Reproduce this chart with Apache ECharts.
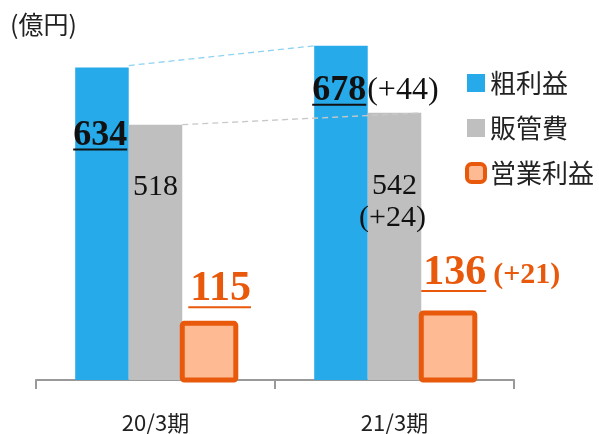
<!DOCTYPE html>
<html>
<head>
<meta charset="utf-8">
<script src="https://cdn.jsdelivr.net/npm/echarts@6/dist/echarts.min.js"></script>
<style>
html,body{margin:0;padding:0;background:#fff;}
#chart{width:599px;height:434px;}
</style>
</head>
<body>
<div id="chart"></div>
<script>
var categories = ['20/3期', '21/3期'];
var grossProfit = [634, 678];
var sgaExpense = [518, 542];
var operatingProfit = [115, 136];
var seriesNames = ['粗利益', '販管費', '営業利益'];
var unitLabel = '(億円)';

var BLUE = '#27AAE9', GRAY = '#BFBFBF', ORANGE = '#E8590C', ORANGE_FILL = '#FDBA93';
var SERIF = '"Liberation Serif", "DejaVu Serif", serif';
var CJK = '"Noto Sans CJK JP", "Noto Sans", sans-serif';
var CAT_GAP = 0.328;

var measureCtx = document.createElement('canvas').getContext('2d');
function textWidth(text, font) { measureCtx.font = font; return measureCtx.measureText(text).width; }
function diffText(arr, i) { var d = arr[i] - arr[i - 1]; return '(' + (d >= 0 ? '+' : '') + d + ')'; }

// per-category label placement (pixels, relative to bars)
var grossLabelDy = [68, 45];
var sgaLabelDy = [62, 73];
var opLabelDx = [8, 2];
var opLabelDy = [-34, -40];

function renderAnnot(params, api) {
  var i = api.value(0);
  var cx = api.coord([i, 0])[0];
  var base = api.coord([i, 0])[1];
  var band = api.size([1, 0])[0];
  var bw = band * (1 - CAT_GAP) / 3;
  var left0 = cx - 1.5 * bw;
  var g = api.value(1), s = api.value(2), o = api.value(3);
  var gTop = api.coord([i, g])[1];
  var sTop = api.coord([i, s])[1];
  var oTop = api.coord([i, o])[1];
  var children = [];

  // operating profit bar outline (centered on the bar edges)
  children.push({type: 'rect', shape: {x: left0 + 2 * bw, y: oTop, width: bw, height: base - oTop, r: 2},
    style: {fill: 'none', stroke: ORANGE, lineWidth: 5}});

  // connectors to previous period
  if (i > 0) {
    var pcx = api.coord([i - 1, 0])[0];
    var pl = pcx - 1.5 * bw;
    var pg = api.coord([i - 1, grossProfit[i - 1]])[1];
    var ps = api.coord([i - 1, sgaExpense[i - 1]])[1];
    children.push({type: 'line', shape: {x1: pl + bw, y1: pg - 2, x2: left0, y2: gTop},
      style: {stroke: '#8FD2F2', lineWidth: 1.3, lineDash: [6, 4]}});
    children.push({type: 'line', shape: {x1: pl + 2 * bw, y1: ps, x2: left0 + 2 * bw, y2: sTop},
      style: {stroke: '#C8C8C8', lineWidth: 1.3, lineDash: [6, 4]}});
  }

  // gross profit label
  var gFont = 'bold 36px ' + SERIF;
  var gx = left0 - 2, gy = gTop + grossLabelDy[i];
  var gText = String(g);
  var gw = textWidth(gText, gFont);
  children.push({type: 'text', style: {text: gText, x: gx, y: gy, font: gFont, fill: '#111', align: 'left', verticalAlign: 'middle'}});
  children.push({type: 'line', shape: {x1: gx, y1: gy + 14, x2: gx + gw, y2: gy + 14}, style: {stroke: '#111', lineWidth: 2}});
  if (i > 0) {
    children.push({type: 'text', style: {text: diffText(grossProfit, i), x: gx + gw + 1, y: gy, font: '32px ' + SERIF, fill: '#111', align: 'left', verticalAlign: 'middle'}});
  }

  // SGA label
  var sx = left0 + 1.5 * bw, sy = sTop + sgaLabelDy[i];
  children.push({type: 'text', style: {text: String(s), x: sx, y: sy, font: '30px ' + SERIF, fill: '#111', align: 'center', verticalAlign: 'middle'}});
  if (i > 0) {
    children.push({type: 'text', style: {text: diffText(sgaExpense, i), x: sx - 2, y: sy + 32, font: '30px ' + SERIF, fill: '#111', align: 'center', verticalAlign: 'middle'}});
  }

  // operating profit label
  var oFont = 'bold 42px ' + SERIF;
  var ox = left0 + 2 * bw + opLabelDx[i], oy = oTop + opLabelDy[i];
  var oText = String(o);
  var ow = textWidth(oText, oFont);
  children.push({type: 'text', style: {text: oText, x: ox, y: oy, font: oFont, fill: ORANGE, align: 'left', verticalAlign: 'middle'}});
  children.push({type: 'line', shape: {x1: ox - 2, y1: oy + 18, x2: ox + ow, y2: oy + 18}, style: {stroke: ORANGE, lineWidth: 2}});
  if (i > 0) {
    children.push({type: 'text', style: {text: diffText(operatingProfit, i), x: ox + ow + 7, y: oy + 2, font: 'bold 30px ' + SERIF, fill: ORANGE, align: 'left', verticalAlign: 'middle'}});
  }
  return {type: 'group', children: children};
}

var chart = echarts.init(document.getElementById('chart'), null, {renderer: 'canvas'});
chart.setOption({
  animation: false,
  backgroundColor: '#fff',
  graphic: [{type: 'text', left: 10, top: 12, style: {text: unitLabel, font: '25px ' + CJK, fill: '#222'}}],
  legend: {
    orient: 'vertical', left: 465, top: 70, padding: 0, itemWidth: 18, itemHeight: 18, itemGap: 19,
    textStyle: {fontFamily: CJK, fontSize: 26, color: '#222'},
    data: [
      {name: seriesNames[0], icon: 'rect'},
      {name: seriesNames[1], icon: 'rect'},
      {name: seriesNames[2], icon: 'roundRect', itemStyle: {color: ORANGE_FILL, borderColor: ORANGE, borderWidth: 4}}
    ]
  },
  grid: {left: 36, right: 85, top: 35, bottom: 54},
  xAxis: {
    type: 'category', data: categories,
    axisLine: {show: true, lineStyle: {color: '#999', width: 2}},
    axisTick: {show: true, length: 9, alignWithLabel: false, lineStyle: {color: '#999', width: 2}},
    axisLabel: {margin: 32, fontFamily: CJK, fontSize: 22, color: '#222'}
  },
  yAxis: {type: 'value', min: 0, max: 700, show: false},
  series: [
    {name: seriesNames[0], type: 'bar', data: grossProfit, barGap: '0%', barCategoryGap: (CAT_GAP * 100) + '%', itemStyle: {color: BLUE}},
    {name: seriesNames[1], type: 'bar', data: sgaExpense, barGap: '0%', barCategoryGap: (CAT_GAP * 100) + '%', itemStyle: {color: GRAY}},
    {name: seriesNames[2], type: 'bar', data: operatingProfit, barGap: '0%', barCategoryGap: (CAT_GAP * 100) + '%',
      itemStyle: {color: ORANGE_FILL}},
    {type: 'custom', renderItem: renderAnnot, z: 5, silent: true, clip: false,
      data: categories.map(function (c, i) { return [i, grossProfit[i], sgaExpense[i], operatingProfit[i]]; }),
      encode: {x: 0, y: 1}}
  ]
});
</script>
</body>
</html>
